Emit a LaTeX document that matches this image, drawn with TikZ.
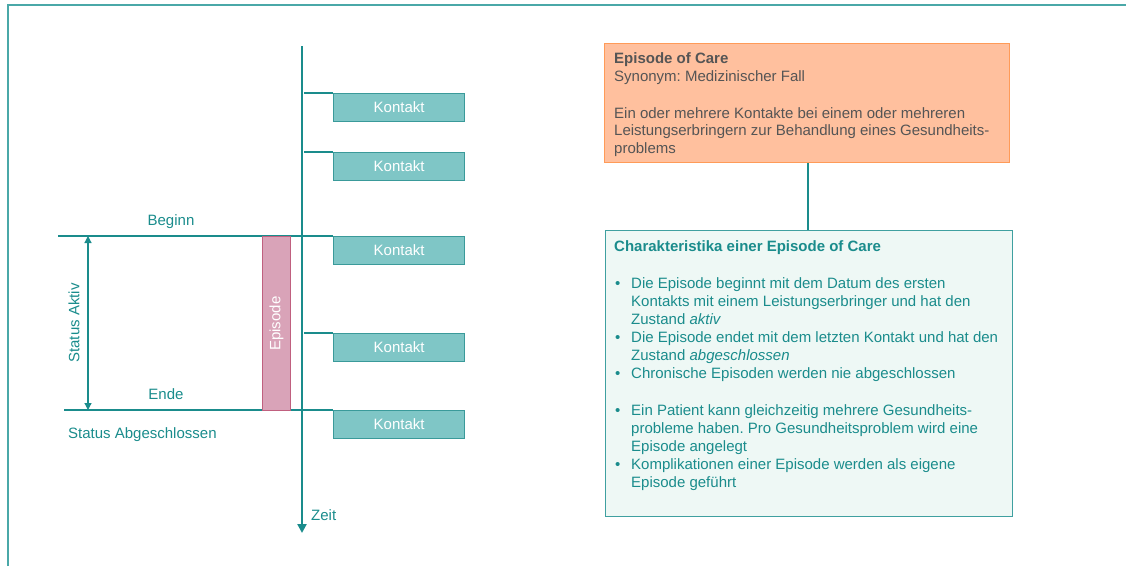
\documentclass[tikz,border=0pt]{standalone}
\usepackage{fontspec}
\setmainfont{Liberation Sans}
\usetikzlibrary{arrows.meta}
\frenchspacing
\definecolor{teal1}{HTML}{1A8C8C}
\definecolor{framec}{HTML}{4AA8A8}
\definecolor{kfill}{HTML}{7FC6C6}
\definecolor{kdraw}{HTML}{3A9A9A}
\definecolor{efill}{HTML}{D9A3B8}
\definecolor{edraw}{HTML}{C0607F}
\definecolor{ofill}{HTML}{FFC09E}
\definecolor{odraw}{HTML}{FF9B58}
\definecolor{otext}{HTML}{555555}
\definecolor{gfill}{HTML}{EEF8F5}
\definecolor{gdraw}{HTML}{3FA0A0}
\tikzset{
  kontakt/.style={draw=kdraw, line width=1.2pt, fill=kfill, text=white,
    minimum width=131pt, minimum height=28pt, inner sep=0pt,
    font=\fontsize{15}{18}\selectfont, anchor=north west},
  tline/.style={draw=teal1, line width=1.2pt},
  lbl/.style={text=teal1, font=\fontsize{15}{18}\selectfont, inner sep=0pt},
  gtext/.style={text=teal1, font=\fontsize{15}{18}\selectfont, inner sep=0pt,
    anchor=base west, align=left},
  otxt/.style={text=otext, font=\fontsize{15}{17.5}\selectfont, inner sep=0pt,
    anchor=base west, align=left},
}
\begin{document}
\begin{tikzpicture}[x=1pt,y=-1pt]
\useasboundingbox (0,0) rectangle (1126,566);
% outer frame
\draw[framec, line width=1.3pt] (8,566) -- (8,5) -- (1126,5);

% time axis
\coordinate (ttop) at (302,46);
\coordinate (tend) at (302,533);
\draw[teal1, line width=2.6pt, -{Triangle[width=9pt,length=9pt]}] (ttop) -- (tend);
\node[lbl, anchor=west] (zeit) at (311,515) {Zeit};

% contacts
\foreach \i/\y in {1/93, 2/152, 3/236, 4/333, 5/410} {
  \node[kontakt] (k\i) at (333,\y) {Kontakt};
  \coordinate (s\i) at (304,\y);
  \draw[tline] (s\i) -- (k\i.north west);
}

% begin / end lines
\coordinate (bl) at (58,236);
\coordinate (el) at (64,410);
\draw[tline] (bl) -- (s3);
\draw[tline] (el) -- (s5);
\node[lbl] (beginn) at (171,222) {Beginn};
\node[lbl] (ende) at (166,394) {Ende};
\node[lbl, anchor=west] (abg) at (68,435) {Status Abgeschlossen};

% status aktiv arrow
\coordinate (a1) at (88,236);
\coordinate (a2) at (88,410);
\draw[teal1, line width=1.2pt, {Triangle[width=7pt,length=7pt]}-{Triangle[width=7pt,length=7pt]}] (a1) -- (a2);
\node[lbl, rotate=90] (aktiv) at (74,323) {Status Aktiv};

% episode bar
\node[draw=edraw, line width=1.2pt, fill=efill, minimum width=28pt, minimum height=174pt,
  inner sep=0pt, anchor=north west] (epi) at (262,236) {};
\node[text=white, rotate=90, font=\fontsize{15}{18}\selectfont, inner sep=0pt] (epit) at (epi.center) {Episode};

% definition box (multi-line texts are placed by the baseline of their last line)
\node[draw=odraw, line width=1.3pt, fill=ofill, minimum width=405pt, minimum height=119pt,
  inner sep=0pt, anchor=north west] (def) at (604,43) {};
\node[otxt, font=\bfseries\fontsize{15}{17.5}\selectfont] (d1) at (614,63) {Episode of Care};
\node[otxt] (d2) at (614,81) {Synonym: Medizinischer Fall};
\node[otxt] (d3) at (614,153) {Ein oder mehrere Kontakte bei einem oder mehreren\\Leistungserbringern zur Behandlung eines Gesundheits-\\problems};

% characteristics box
\node[draw=gdraw, line width=1.3pt, fill=gfill, minimum width=407pt, minimum height=286pt,
  inner sep=0pt, anchor=north west] (ch) at (605,230) {};
\draw[tline] (def.south -| 808,0) -- (ch.north -| 808,0);
\node[gtext, font=\bfseries\fontsize{15}{18}\selectfont] (c0) at (614,251) {Charakteristika einer Episode of Care};
\foreach \y in {288, 342, 378, 415, 469} {
  \node[gtext] at (615,\y) {\textbullet};
}
\node[gtext] (c1) at (631,324) {Die Episode beginnt mit dem Datum des ersten\\Kontakts mit einem Leistungserbringer und hat den\\Zustand \textit{aktiv}};
\node[gtext] (c2) at (631,360) {Die Episode endet mit dem letzten Kontakt und hat den\\Zustand \textit{abgeschlossen}};
\node[gtext] (c3) at (631,378) {Chronische Episoden werden nie abgeschlossen};
\node[gtext] (c4) at (631,451) {Ein Patient kann gleichzeitig mehrere Gesundheits-\\probleme haben. Pro Gesundheitsproblem wird eine\\Episode angelegt};
\node[gtext] (c5) at (631,487) {Komplikationen einer Episode werden als eigene\\Episode geführt};
\end{tikzpicture}
\end{document}
